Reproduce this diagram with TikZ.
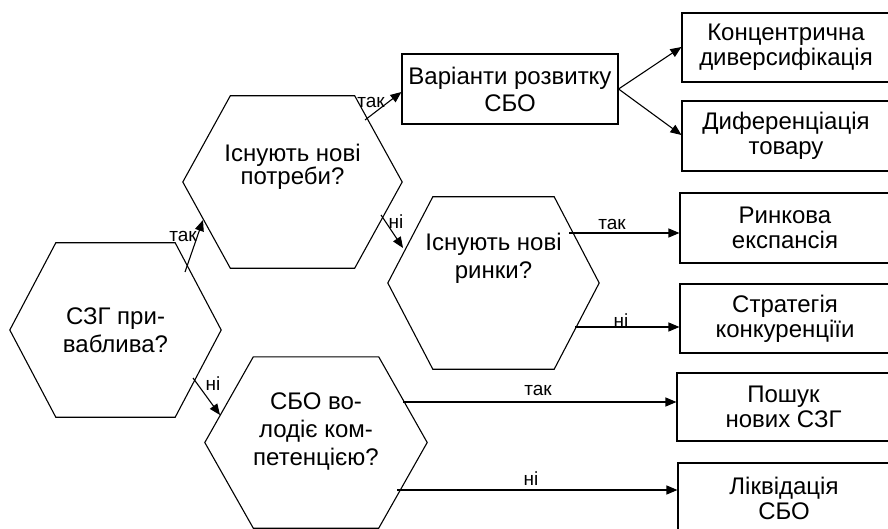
\documentclass[tikz,border=0pt]{standalone}
\usepackage{fontspec}
\setmainfont{Liberation Sans}
\usetikzlibrary{arrows.meta,calc}
\tikzset{
  line/.style={line width=1.1pt, line join=miter},
  arr/.style={line, -{Triangle[length=11pt,width=9pt]}},
  hexframe/.style={draw=none, rectangle, inner sep=0pt},
  hextext/.style={align=center, inner sep=0pt, font=\fontsize{24pt}{28pt}\selectfont},
  rbox/.style={draw, line width=1.1pt, rectangle, align=center, inner sep=0pt, font=\fontsize{24pt}{25pt}\selectfont},
  lbl/.style={inner sep=0pt, font=\fontsize{19pt}{22pt}\selectfont},
}
\newcommand{\hexdraw}[2]{\draw[line] (#1.west) -- ([xshift=#2]#1.north west) -- ([xshift=-#2]#1.north east) -- (#1.east) -- ([xshift=-#2]#1.south east) -- ([xshift=#2]#1.south west) -- cycle;}
\begin{document}
\begin{tikzpicture}[x=1pt,y=-1pt]
\clip (0,0) rectangle (888,529);
\fill[white] (0,0) rectangle (888,529);
% hexagons
\node[hexframe, minimum width=211pt, minimum height=174pt] (h1) at (115.5,330) {};
\node[hexframe, minimum width=219pt, minimum height=172pt] (h2) at (292.5,182) {};
\node[hexframe, minimum width=211pt, minimum height=172pt] (h3) at (493.5,283) {};
\node[hexframe, minimum width=222pt, minimum height=171pt] (h4) at (316,442.5) {};
\hexdraw{h1}{46pt}
\hexdraw{h2}{47.5pt}
\hexdraw{h3}{45pt}
\hexdraw{h4}{48.5pt}
\node[hextext] (h1t) at (115.5,330) {СЗГ при-\\ваблива?};
\node[hextext, font=\fontsize{24pt}{22pt}\selectfont] (h2t) at (292.5,167) {Існують нові\\потреби?};
\node[hextext] (h3t) at (493.5,258) {Існують нові\\ринки?};
\node[hextext] (h4t) at (316,432) {СБО во-\\лодіє ком-\\петенцією?};
% boxes
\node[rbox, minimum width=216pt, minimum height=70pt, font=\fontsize{24pt}{27pt}\selectfont] (var) at (510,89) {Варіанти розвитку\\СБО};
\node[rbox, minimum width=208pt, minimum height=69pt] (konc) at (786,47.5) {Концентрична\\диверсифікація};
\node[rbox, minimum width=208pt, minimum height=70pt] (dyf) at (786,136) {Диференціація\\товару};
\node[rbox, minimum width=210pt, minimum height=70pt] (rynk) at (785,228) {Ринкова\\експансія};
\node[rbox, minimum width=210pt, minimum height=69pt] (strat) at (785,318.5) {Стратегія\\конкуренціїи};
\node[rbox, minimum width=213pt, minimum height=68pt] (posh) at (783.5,407) {Пошук\\нових СЗГ};
\node[rbox, minimum width=212pt, minimum height=70pt] (likv) at (784,498) {Ліквідація\\СБО};
% connector anchor points
\coordinate (a1s) at (185,272);
\coordinate (a1e) at (203,220);
\coordinate (a2s) at (193,378);
\coordinate (a2e) at (220,415);
\coordinate (a3s) at (365,120);
\coordinate (a4s) at (381,215);
\coordinate (a4e) at (403,248);
\coordinate (a5s) at (569,233);
\coordinate (a6s) at (575,327);
\coordinate (a7s) at (403,402);
\coordinate (a8s) at (397,490);
% connectors
\draw[arr] (a1s) -- (a1e);
\draw[arr] (a2s) -- (a2e);
\draw[arr] (a3s) -- (var.west |- 0,92);
\draw[arr] (a4s) -- (a4e);
\draw[arr] (var.east) -- (konc.west |- 0,47);
\draw[arr] (var.east) -- (dyf.west |- 0,135);
\draw[arr] (a5s) -- (a5s -| rynk.west);
\draw[arr] (a6s) -- (a6s -| strat.west);
\draw[arr] (a7s) -- (a7s -| posh.west);
\draw[arr] (a8s) -- (a8s -| likv.west);
% labels
\node[lbl] (l1) at (183,236) {так};
\node[lbl] (l2) at (213,384) {ні};
\node[lbl] (l3) at (371,102) {так};
\node[lbl] (l4) at (396,222) {ні};
\node[lbl] (l5) at (612,224) {так};
\node[lbl] (l6) at (621,321) {ні};
\node[lbl] (l7) at (538,390) {так};
\node[lbl] (l8) at (531,479) {ні};
\end{tikzpicture}
\end{document}
